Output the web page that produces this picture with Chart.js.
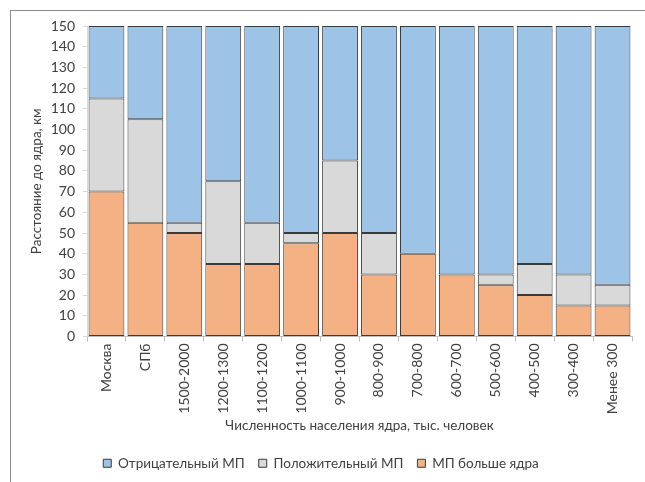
<!DOCTYPE html>
<html><head><meta charset="utf-8">
<script src="https://cdn.jsdelivr.net/npm/chart.js@4"></script>
<style>
html,body{margin:0;padding:0;background:#fff;}
#wrap{position:relative;width:645px;height:482px;overflow:hidden;}
#frame{position:absolute;left:10px;top:10px;width:700px;height:600px;border:1.5px solid #8c8c8c;box-sizing:border-box;}
canvas{position:absolute;left:0;top:0;}
</style></head>
<body><div id="wrap"><div id="frame"></div><canvas id="c" width="645" height="482"></canvas></div>
<script>
const categories = ["Москва","СПб","1500-2000","1200-1300","1100-1200","1000-1100","900-1000","800-900","700-800","600-700","500-600","400-500","300-400","Менее 300"];
const mpLargerCore = [70,55,50,35,35,45,50,30,40,30,25,20,15,15];
const positiveMP   = [45,50,5,40,20,5,35,20,0,0,5,15,15,10];
const negativeMP   = [35,45,95,75,95,100,65,100,110,120,120,115,120,125];
const seriesNames = ["МП больше ядра","Положительный МП","Отрицательный МП"];
const yTitle = "Расстояние до ядра, км";
const xTitle = "Численность населения ядра, тыс. человек";

const font = "Lato";
const txt = "#404040";
const ds = (label, data, color) => ({label, data, backgroundColor: color, borderColor: "#3a3a3a", borderWidth: 1, borderSkipped: false, barPercentage: 1, categoryPercentage: 0.92});

new Chart(document.getElementById("c"), {
  type: "bar",
  data: {
    labels: categories,
    datasets: [
      ds(seriesNames[0], mpLargerCore, "#F4B183"),
      ds(seriesNames[1], positiveMP, "#D9D9D9"),
      ds(seriesNames[2], negativeMP, "#9DC3E6")
    ]
  },
  options: {
    responsive: false,
    animation: false,
    layout: {padding: {left: 10, right: 13, top: 26, bottom: 2}},
    plugins: {
      tooltip: {enabled: false},
      legend: {
        position: "bottom", reverse: true,
        labels: {boxWidth: 8, boxHeight: 8, padding: 14, color: txt, font: {family: font, size: 13.5}}
      }
    },
    scales: {
      x: {
        stacked: true,
        grid: {drawOnChartArea: false, tickLength: 5, color: "#bfbfbf", offset: true},
        border: {color: "#bfbfbf"},
        ticks: {color: txt, font: {family: font, size: 14}, maxRotation: 90, minRotation: 90, padding: 2},
        title: {display: true, text: xTitle, color: txt, font: {family: font, size: 13.5}, padding: {top: 4, bottom: 9}},
        afterFit: s => { s.height = 106; }
      },
      y: {
        stacked: true, min: 0, max: 150,
        grid: {drawOnChartArea: false, tickLength: 4, color: "#d9d9d9"},
        border: {color: "#d9d9d9"},
        ticks: {stepSize: 10, color: txt, font: {family: font, size: 14}, padding: 8},
        title: {display: true, text: yTitle, color: txt, font: {family: font, size: 13.5}, padding: {top: 19, bottom: 0}},
        afterFit: s => { s.width = 77; }
      }
    }
  }
});
</script></body></html>
